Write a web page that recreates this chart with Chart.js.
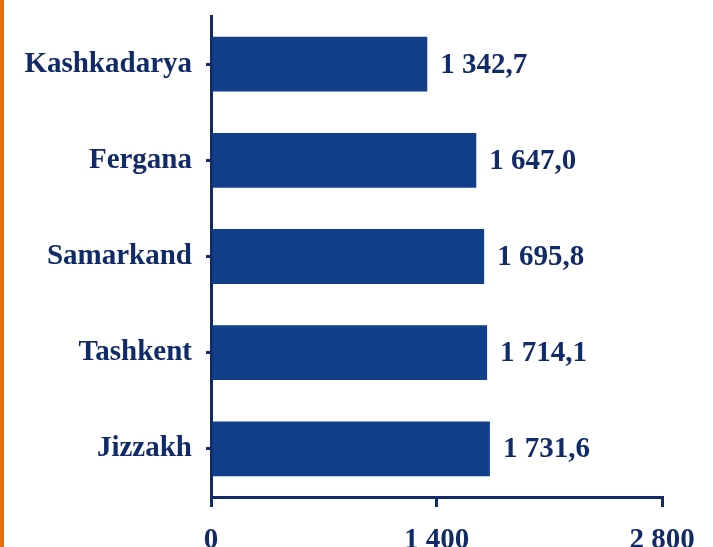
<!DOCTYPE html>
<html>
<head>
<meta charset="utf-8">
<script src="https://cdn.jsdelivr.net/npm/chart.js@4"></script>
<style>
  html, body { margin: 0; padding: 0; background: #fff; }
  #wrap { position: relative; width: 713px; height: 547px; overflow: hidden; }
  #strip { position: absolute; left: 0; top: 0; width: 4px; height: 547px; background: #e5700c; }
</style>
</head>
<body>
<div id="wrap">
  <canvas id="chart" width="713" height="547"></canvas>
  <div id="strip"></div>
</div>
<script>
const regions = ["Kashkadarya", "Fergana", "Samarkand", "Tashkent", "Jizzakh"];
const values = [1342.7, 1647.0, 1695.8, 1714.1, 1731.6];
const xTicks = [0, 1400, 2800];

const navy = "#112a68";
const barBlue = "#123f8a";
const font = { family: "'Liberation Serif', 'Times New Roman', serif", size: 29, weight: "bold" };

// 1 400 / 1 342,7 style numbers
function fmt(v, dec) {
    const parts = v.toFixed(dec).split(".");
    const int = parts[0].replace(/\B(?=(\d{3})+(?!\d))/g, " ");
    return parts[1] ? int + "," + parts[1] : int;
}

const valueLabels = {
    id: "valueLabels",
    afterDatasetsDraw(chart) {
        const ctx = chart.ctx;
        const meta = chart.getDatasetMeta(0);
        ctx.save();
        ctx.font = `${font.weight} ${font.size}px ${font.family}`;
        ctx.fillStyle = navy;
        ctx.textAlign = "left";
        ctx.textBaseline = "middle";
        meta.data.forEach((bar, i) => {
            ctx.fillText(fmt(values[i], 1), bar.x + 13, bar.y + 1);
        });
        ctx.restore();
    }
};

new Chart(document.getElementById("chart"), {
    type: "bar",
    data: {
        labels: regions,
        datasets: [{
            data: values,
            backgroundColor: barBlue,
            barPercentage: 0.57,
            categoryPercentage: 1
        }]
    },
    options: {
        indexAxis: "y",
        responsive: false,
        animation: false,
        layout: { padding: { top: 16, right: 51, left: 0, bottom: 0 } },
        plugins: { legend: { display: false }, tooltip: { enabled: false } },
        scales: {
            x: {
                min: 0,
                max: 2800,
                afterBuildTicks: (scale) => { scale.ticks = xTicks.map(v => ({ value: v })); },
                afterFit: (scale) => { scale.height = 50; scale.paddingLeft = 0; scale.paddingRight = 0; },
                border: { color: navy, width: 3 },
                grid: { drawOnChartArea: false, color: navy, lineWidth: 3, tickLength: 10 },
                ticks: { color: navy, font: font, padding: 16, callback: (v) => fmt(v, 0) }
            },
            y: {
                afterFit: (scale) => { scale.width = 211; scale.paddingTop = 0; scale.paddingBottom = 0; },
                border: { color: navy, width: 3 },
                grid: { drawOnChartArea: false, offset: false, color: navy, lineWidth: 3, tickLength: 5 },
                ticks: { color: navy, font: font, padding: 14 }
            }
        }
    },
    plugins: [valueLabels]
});
</script>
</body>
</html>
